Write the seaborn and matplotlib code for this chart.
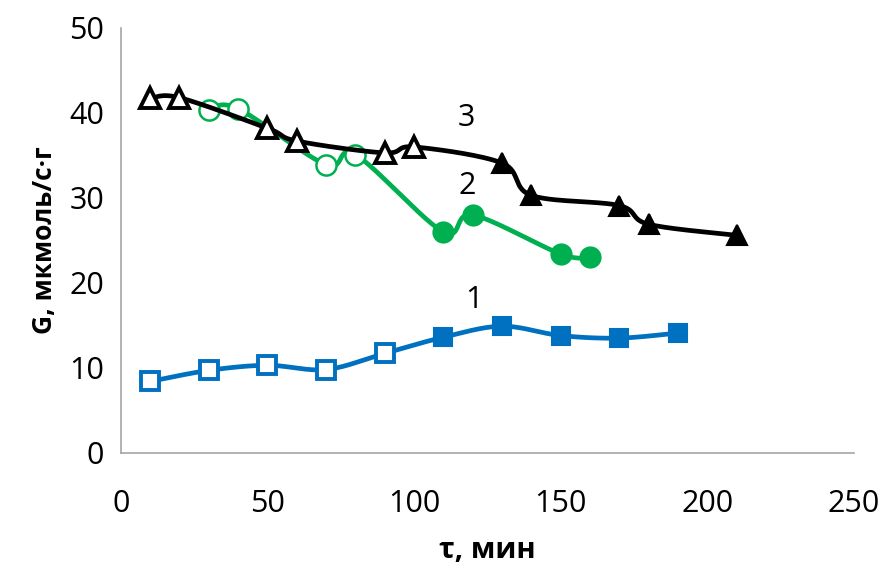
import numpy as np
import pandas as pd
import matplotlib
matplotlib.use('Agg')
import matplotlib.pyplot as plt
import seaborn as sns

# series 1 (blue squares)
t1 = [10, 30, 50, 70, 90, 110, 130, 150, 170, 190]
g1 = [8.4, 9.7, 10.3, 9.8, 11.7, 13.6, 14.9, 13.8, 13.5, 14.1]
open1 = [True, True, True, True, True, False, False, False, False, False]

# series 2 (green circles)
t2 = [30, 40, 70, 80, 110, 120, 150, 160]
g2 = [40.4, 40.5, 33.9, 35.1, 26.0, 28.0, 23.4, 23.0]
open2 = [True, True, True, True, False, False, False, False]

# series 3 (black triangles)
t3 = [10, 20, 50, 60, 90, 100, 130, 140, 170, 180, 210]
g3 = [41.7, 41.8, 38.2, 36.7, 35.3, 36.0, 34.1, 30.3, 29.1, 26.9, 25.6]
open3 = [True, True, True, True, True, True, False, False, False, False, False]

labels = ['1', '2', '3']
label_pos = [(120.5, 18.0), (118, 31.4), (118, 39.4)]


def smooth(x, y, n=30):
    # Excel-like smoothed line (bezier with 1/6 tension)
    p = np.column_stack([x, y]).astype(float)
    pts = np.vstack([p[0], p, p[-1]])
    out = []
    s = np.linspace(0, 1, n)[:, None]
    for i in range(1, len(pts) - 2):
        a, b = pts[i], pts[i + 1]
        c1 = a + (pts[i + 1] - pts[i - 1]) / 6
        c2 = b - (pts[i + 2] - pts[i]) / 6
        seg = ((1 - s) ** 3) * a + 3 * ((1 - s) ** 2) * s * c1 + 3 * (1 - s) * s ** 2 * c2 + s ** 3 * b
        out.append(seg if i == 1 else seg[1:])
    out = np.vstack(out)
    return pd.DataFrame({'t': out[:, 0], 'g': out[:, 1]})


sns.set_style('white')
plt.rcParams['font.family'] = ['Open Sans', 'DejaVu Sans']
plt.rcParams['text.color'] = 'black'
plt.rcParams['axes.labelcolor'] = 'black'
plt.rcParams['xtick.color'] = 'black'
plt.rcParams['ytick.color'] = 'black'

fig = plt.figure(figsize=(8.95, 5.71), dpi=100)
ax = fig.add_axes([0.135, 0.207, 0.819, 0.744])

series = [
    (t1, g1, open1, '#0070C0', 's', 13.5),
    (t2, g2, open2, '#00B050', 'o', 14.5),
    (t3, g3, open3, 'black', '^', 14.5),
]

for z, (t, g, op, col, mk, ms) in enumerate(series):
    sm = smooth(t, g)
    sns.lineplot(data=sm, x='t', y='g', sort=False, estimator=None,
                 color=col, lw=3.4, ax=ax, zorder=2 + 2 * z)
    df = pd.DataFrame({'t': t, 'g': g, 'open': op})
    o = df[df['open']]
    f = df[~df['open']]
    ax.plot(o['t'], o['g'], ls='none', marker=mk, ms=ms, mfc='white',
            mec=col, mew=2.8 if mk != 'o' else 1.8, zorder=3 + 2 * z)
    ax.plot(f['t'], f['g'], ls='none', marker=mk, ms=ms, mfc=col,
            mec=col, mew=1.5, zorder=3 + 2 * z)

for lab, (x, y) in zip(labels, label_pos):
    ax.text(x, y, lab, fontsize=22, ha='center', va='center', zorder=10)

ax.set_xlim(0, 250)
ax.set_ylim(0, 50)
ax.set_xticks(range(0, 251, 50))
ax.set_yticks(range(0, 51, 10))
ax.tick_params(labelsize=22, length=0, pad=12)
ax.tick_params(axis='x', pad=26)

for side in ['top', 'right']:
    ax.spines[side].set_visible(False)
for side in ['left', 'bottom']:
    ax.spines[side].set_color('#A6A6A6')
    ax.spines[side].set_linewidth(1.2)

ax.set_xlabel('τ, мин', fontsize=21, fontweight='bold', labelpad=12)
ax.set_ylabel('G, мкмоль/с·г', fontsize=19, fontweight='bold', labelpad=8)

fig.savefig('out.png', dpi=100)
